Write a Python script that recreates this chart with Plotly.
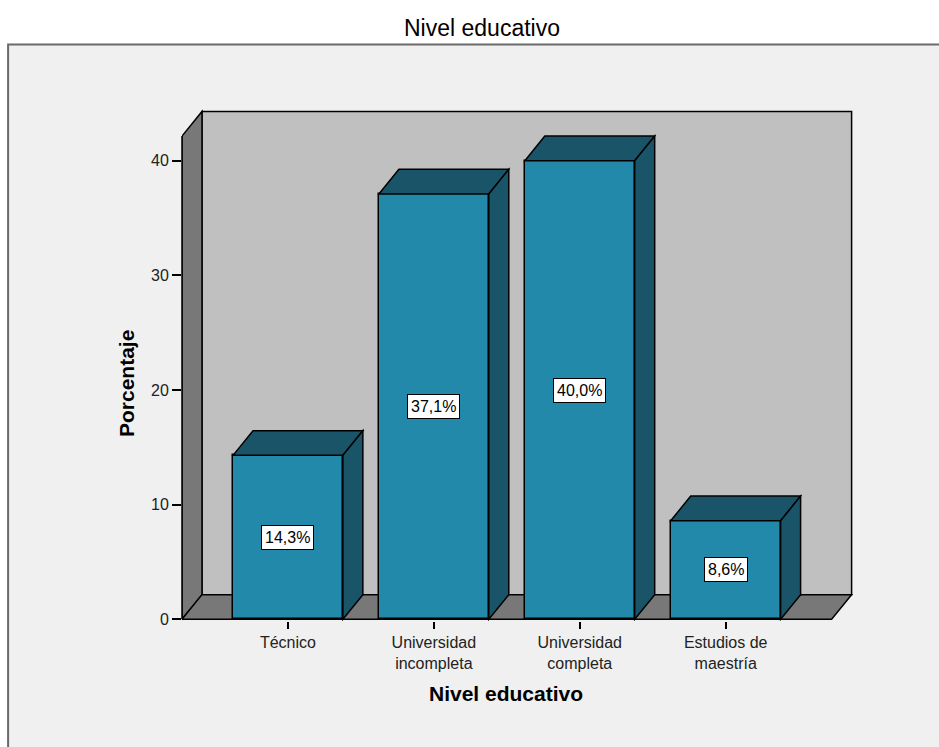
import plotly.graph_objects as go

categories = ["Técnico", "Universidad<br>incompleta", "Universidad<br>completa", "Estudios de<br>maestría"]
values = [14.3, 37.1, 40.0, 8.6]
value_labels = ["14,3%", "37,1%", "40,0%", "8,6%"]
y_ticks = [0, 10, 20, 30, 40]

FRONT = "#2389AB"
DARK = "#1A5468"
WALL = "#C0C0C0"
FLOOR = "#787878"
BG = "#F0F0F0"
FONT = "Liberation Sans, Arial, sans-serif"

W_FIG, H_FIG = 939, 747
BAR_W = 0.753
DX, DY = 0.137, 2.15
X_LO, X_HI = -0.726, 3.726
Y_TOP = 42.15
XR = [X_LO, 3.90]
YR = [-0.15, 44.6]
PX_X, PX_Y = 146.0, 11.45
L = 182 - (X_LO - XR[0]) * PX_X
PW = (XR[1] - XR[0]) * PX_X
R = W_FIG - L - PW
PH = (YR[1] - YR[0]) * PX_Y
B = H_FIG - (619 + (0 - YR[0]) * PX_Y)
T = H_FIG - B - PH


def px(xp):
    return (xp - L) / PW


def py(yp):
    return 1 - (yp - T) / PH


xs = list(range(len(categories)))

fig = go.Figure()
fig.add_trace(go.Bar(
    x=xs, y=values, width=BAR_W,
    marker=dict(color=FRONT, line=dict(color="black", width=1.5)),
    hoverinfo="skip", showlegend=False,
))

shapes = []
# outer frame
shapes.append(dict(type="rect", xref="paper", yref="paper", x0=px(8), x1=px(960), y0=py(45), y1=py(780),
                   fillcolor=BG, line=dict(color="#6a6a6a", width=2), layer="below"))


def poly(pts, fill, layer="below"):
    path = "M " + " L ".join(f"{x},{y}" for x, y in pts) + " Z"
    return dict(type="path", xref="x", yref="y", path=path, fillcolor=fill,
                line=dict(color="black", width=1.5), layer=layer)


# back wall
shapes.append(poly([(X_LO + DX, DY), (X_LO + DX, Y_TOP + DY), (X_HI + DX, Y_TOP + DY), (X_HI + DX, DY)], WALL))
# left wall
shapes.append(poly([(X_LO, 0), (X_LO, Y_TOP), (X_LO + DX, Y_TOP + DY), (X_LO + DX, DY)], FLOOR))
# floor
shapes.append(poly([(X_LO, 0), (X_HI, 0), (X_HI + DX, DY), (X_LO + DX, DY)], FLOOR))
# front-left vertical edge (unclipped)
shapes.append(dict(type="line", xref="x domain", yref="y", x0=0, x1=0, y0=0, y1=Y_TOP,
                   line=dict(color="black", width=1.5), layer="above"))

for c, v in zip(xs, values):
    l, r = c - BAR_W / 2, c + BAR_W / 2
    shapes.append(poly([(l, v), (l + DX, v + DY), (r + DX, v + DY), (r, v)], DARK, "above"))
    shapes.append(poly([(r, 0), (r, v), (r + DX, v + DY), (r + DX, DY)], DARK, "above"))

annotations = []
for c, v, lab in zip(xs, values, value_labels):
    annotations.append(dict(x=c, y=v / 2, xref="x", yref="y", text=lab, showarrow=False,
                            font=dict(family=FONT, size=16, color="black"),
                            bgcolor="white", bordercolor="black", borderwidth=1, borderpad=3))

annotations.append(dict(x=px(482), y=py(28), xref="paper", yref="paper", text="Nivel educativo",
                        showarrow=False, font=dict(family=FONT, size=23, color="black"),
                        xanchor="center", yanchor="middle"))
annotations.append(dict(x=px(506), y=py(693), xref="paper", yref="paper", text="<b>Nivel educativo</b>",
                        showarrow=False, font=dict(family=FONT, size=21, color="black"),
                        xanchor="center", yanchor="middle"))
annotations.append(dict(x=px(127), y=py(384), xref="paper", yref="paper", text="<b>Porcentaje</b>",
                        showarrow=False, textangle=-90, font=dict(family=FONT, size=21, color="black"),
                        xanchor="center", yanchor="middle"))

fig.update_layout(
    width=W_FIG, height=H_FIG,
    margin=dict(l=L, r=R, t=T, b=B, autoexpand=False),
    paper_bgcolor="white", plot_bgcolor="rgba(0,0,0,0)",
    shapes=shapes, annotations=annotations,
    bargap=0,
    xaxis=dict(range=XR, tickmode="array", tickvals=xs, ticktext=categories,
               ticks="outside", ticklen=7, tickwidth=1.5, tickcolor="black",
               showgrid=False, zeroline=False, showline=False, fixedrange=True,
               tickfont=dict(family=FONT, size=16, color="#222222")),
    yaxis=dict(range=YR, tickmode="array", tickvals=y_ticks,
               ticks="outside", ticklen=9, tickwidth=1.5, tickcolor="black",
               showgrid=False, zeroline=False, showline=False, fixedrange=True,
               tickfont=dict(family=FONT, size=16, color="#222222")),
)

fig.write_html("out.html")
